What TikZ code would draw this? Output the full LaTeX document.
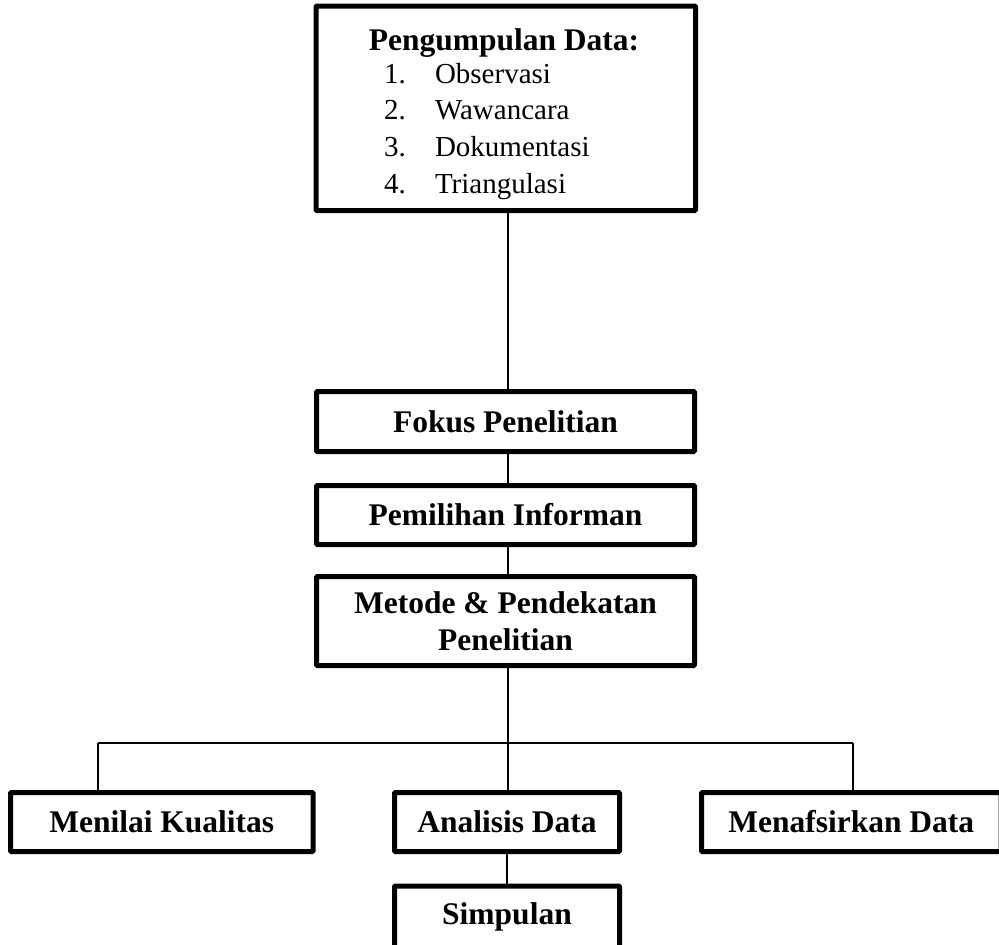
\documentclass[tikz,border=0pt]{standalone}
\usepackage{fontspec}
\setmainfont{Liberation Serif}
\newcommand\boldtxt{\fontsize{31.5}{36.5}\selectfont\bfseries}
\newcommand\plaintxt{\fontsize{29}{36}\selectfont}
\tikzset{
  box/.style={draw=black, line width=5pt, rounded corners=1pt, fill=white,
    inner sep=0pt, outer sep=0pt, align=center, font=\boldtxt},
  conn/.style={draw=black, line width=2pt},
  txt/.style={inner sep=0pt, outer sep=0pt},
}
\begin{document}
\begin{tikzpicture}[x=1pt, y=-1pt]
\useasboundingbox (0,0) rectangle (999,945);
\clip (0,0) rectangle (999,945);
% boxes
\node[box, minimum width=379.5pt, minimum height=204.5pt] (top) at (505.75,108.25) {};
\node[txt, anchor=base, font=\boldtxt] (title) at (504,50) {Pengumpulan Data:};
\node[txt, anchor=base west, font=\plaintxt] (n1) at (384,83) {1.};
\node[txt, anchor=base west, font=\plaintxt] (i1) at (435,83) {Observasi};
\node[txt, anchor=base west, font=\plaintxt] (n2) at (384,119.5) {2.};
\node[txt, anchor=base west, font=\plaintxt] (i2) at (435,119.5) {Wawancara};
\node[txt, anchor=base west, font=\plaintxt] (n3) at (384,156) {3.};
\node[txt, anchor=base west, font=\plaintxt] (i3) at (435,156) {Dokumentasi};
\node[txt, anchor=base west, font=\plaintxt] (n4) at (384,193) {4.};
\node[txt, anchor=base west, font=\plaintxt] (i4) at (435,193) {Triangulasi};

\node[box, minimum width=378pt, minimum height=60pt] (fokus) at (505.5,421.5) {Fokus Penelitian};
\node[box, minimum width=378pt, minimum height=59pt] (pemilihan) at (505.5,515) {Pemilihan Informan};
\node[box, minimum width=378pt, minimum height=89pt] (metode) at (505.5,621) {Metode \& Pendekatan\\Penelitian};

\node[box, minimum width=302.5pt, minimum height=59pt] (menilai) at (161.75,822) {Menilai Kualitas};
\node[box, minimum width=225pt, minimum height=59pt] (analisis) at (507,822) {Analisis Data};
\node[box, minimum width=299.5pt, minimum height=59pt] (menafsir) at (851.25,822) {Menafsirkan Data};
\node[box, minimum width=225pt, minimum height=62pt] (simpulan) at (507,917) {Simpulan};

% connectors
\coordinate (hl) at (98,743);
\coordinate (hr) at (853,743);
\draw[conn] ([xshift=2.5pt]top.south) -- ([xshift=2.5pt]top.south |- fokus.north);
\draw[conn] ([xshift=2.5pt]fokus.south) -- ([xshift=2.5pt]fokus.south |- pemilihan.north);
\draw[conn] ([xshift=2.5pt]pemilihan.south) -- ([xshift=2.5pt]pemilihan.south |- metode.north);
\draw[conn] ([xshift=2.5pt]metode.south) -- ([xshift=1pt]analisis.north);
\draw[conn] (hl) -- (hr);
\draw[conn] (hl) -- (hl |- menilai.north);
\draw[conn] (hr) -- (hr |- menafsir.north);
\draw[conn] (analisis.south) -- (simpulan.north);
\end{tikzpicture}
\end{document}
